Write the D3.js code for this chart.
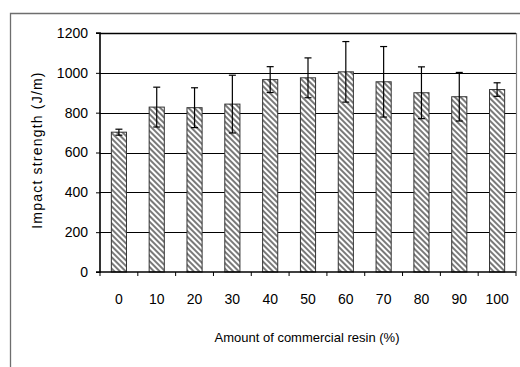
<!DOCTYPE html>
<html>
<head>
<meta charset="utf-8">
<script src="https://cdn.jsdelivr.net/npm/d3@7"></script>
<style>
  html, body { margin: 0; padding: 0; background: #fff; }
  svg { display: block; font-family: "Liberation Sans", Arial, sans-serif; }
</style>
</head>
<body>
<svg id="chart" width="520" height="367"></svg>
<script>
// Impact strength vs. share of commercial resin
const categories = ["0", "10", "20", "30", "40", "50", "60", "70", "80", "90", "100"];
const strength   = [702, 828, 825, 843, 966, 975, 1005, 955, 900, 880, 916];
const errors     = [15, 100, 100, 145, 65, 100, 152, 177, 130, 122, 34];
const yTicks     = [0, 200, 400, 600, 800, 1000, 1200];

const svg = d3.select("#chart");
const plot = { left: 100, right: 516, top: 33, bottom: 272 };

// diagonal hatch fill for the bars
const defs = svg.append("defs");
const pat = defs.append("pattern")
  .attr("id", "hatch")
  .attr("patternUnits", "userSpaceOnUse")
  .attr("width", 4).attr("height", 4)
  .attr("patternTransform", "rotate(-45)");
pat.append("rect").attr("width", 4).attr("height", 4).attr("fill", "#fff");
pat.append("rect").attr("width", 2).attr("height", 4).attr("fill", "#7a7a7a");

// outer frame (top and left edges visible)
svg.append("path")
  .attr("d", "M10.5,367 V13.5 H520")
  .attr("fill", "none").attr("stroke", "#6e6e6e").attr("stroke-width", 1.3);

const x = d3.scaleBand().domain(categories).range([plot.left, plot.right]).padding(0);
const y = d3.scaleLinear().domain([0, 1200]).range([plot.bottom, plot.top]);

// gridlines
svg.append("g").selectAll("line").data(yTicks.filter(d => d > 0)).join("line")
  .attr("x1", plot.left).attr("x2", plot.right)
  .attr("y1", d => Math.round(y(d)) + 0.5).attr("y2", d => Math.round(y(d)) + 0.5)
  .attr("stroke", "#000").attr("stroke-width", d => d === 1200 ? 1.6 : 1.1);

// right edge of plot area
svg.append("line")
  .attr("x1", plot.right + 0.5).attr("x2", plot.right + 0.5)
  .attr("y1", plot.top).attr("y2", plot.bottom)
  .attr("stroke", "#808080").attr("stroke-width", 1.2);

// bars
const bw = x.bandwidth() * 0.4;
svg.append("g").selectAll("rect").data(categories).join("rect")
  .attr("x", d => x(d) + (x.bandwidth() - bw) / 2)
  .attr("y", (d, i) => y(strength[i]))
  .attr("width", bw)
  .attr("height", (d, i) => y(0) - y(strength[i]))
  .attr("fill", "url(#hatch)")
  .attr("stroke", "#333").attr("stroke-width", 1);

// error bars
const eb = svg.append("g").attr("stroke", "#000").attr("stroke-width", 1.2);
categories.forEach((c, i) => {
  const cx = x(c) + x.bandwidth() / 2;
  const y1 = y(strength[i] + errors[i]), y2 = y(strength[i] - errors[i]);
  eb.append("line").attr("x1", cx).attr("x2", cx).attr("y1", y1).attr("y2", y2);
  eb.append("line").attr("x1", cx - 3.5).attr("x2", cx + 3.5).attr("y1", y1).attr("y2", y1);
  eb.append("line").attr("x1", cx - 3.5).attr("x2", cx + 3.5).attr("y1", y2).attr("y2", y2);
});

// y axis
const yAxis = svg.append("g").attr("transform", `translate(${plot.left},0)`)
  .call(d3.axisLeft(y).tickValues(yTicks).tickSize(4).tickPadding(8).tickFormat(d3.format("d")));
yAxis.select(".domain").attr("stroke", "#000").attr("stroke-width", 1.6)
  .attr("d", `M-4,${plot.top}H0V${plot.bottom}H-4`);
yAxis.selectAll(".tick line").attr("stroke", "#000");
yAxis.selectAll("text").attr("font-size", 14).attr("fill", "#000")
  .attr("font-family", "'Liberation Sans', Arial, sans-serif");

// x axis with ticks on band boundaries
const xAxis = svg.append("g").attr("transform", `translate(0,${plot.bottom})`);
xAxis.append("line").attr("x1", plot.left).attr("x2", plot.right).attr("y1", 0).attr("y2", 0)
  .attr("stroke", "#000").attr("stroke-width", 1.6);
const bounds = categories.map(c => x(c)).concat([plot.right]);
xAxis.selectAll(".tk").data(bounds).join("line").attr("class", "tk")
  .attr("x1", d => d).attr("x2", d => d).attr("y1", 0).attr("y2", 4)
  .attr("stroke", "#000").attr("stroke-width", 1);
xAxis.selectAll("text").data(categories).join("text")
  .attr("x", d => x(d) + x.bandwidth() / 2)
  .attr("y", 32)
  .attr("text-anchor", "middle")
  .attr("font-size", 14)
  .text(d => d);

// axis titles
svg.append("text")
  .attr("x", 307).attr("y", 342)
  .attr("text-anchor", "middle").attr("font-size", 13)
  .text("Amount of commercial resin (%)");

svg.append("text")
  .attr("transform", "translate(42,150) rotate(-90)")
  .attr("text-anchor", "middle").attr("font-size", 14)
  .attr("letter-spacing", 1.2)
  .text("Impact strength (J/m)");
</script>
</body>
</html>
